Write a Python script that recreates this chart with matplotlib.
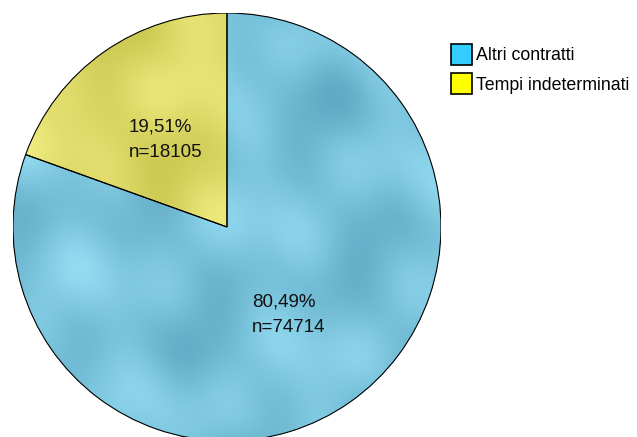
#!/usr/bin/env python3
"""Pie chart: Tempi indeterminati vs Altri contratti."""
import numpy as np
import matplotlib

matplotlib.use("Agg")
import matplotlib.pyplot as plt
from matplotlib.colors import LinearSegmentedColormap
from matplotlib.patches import Wedge

# data, in drawing order (counter-clockwise from 12 o'clock)
categories = ["Tempi indeterminati", "Altri contratti"]
counts = [18105, 74714]
pct_labels = ["19,51%", "80,49%"]

# colours: textured fill (dark, light) per slice, and the bright legend swatches
fill_colors = ["#dcd868", "#7ac4dc"]
texture_ranges = [("#c9c64e", "#f0ec80"), ("#5fa9c4", "#93dcf2")]
legend_colors = ["#ffff00", "#33ccff"]

W, H, DPI = 637, 437, 100
fig = plt.figure(figsize=(W / DPI, H / DPI), dpi=DPI)
fig.patch.set_facecolor("white")

# pie centre at pixel (227, 227 from top), radius ~214 px
cx, cy, r = 227, 227, 214
ax = fig.add_axes([(cx - r) / W, (H - cy - r) / H, 2 * r / W, 2 * r / H])

wedges, _ = ax.pie(
    counts,
    colors=fill_colors,
    startangle=90,
    counterclock=True,
    radius=1,
    wedgeprops=dict(edgecolor="none"),
)
ax.set_xlim(-1, 1)
ax.set_ylim(-1, 1)
ax.set_aspect("equal")
ax.axis("off")

# soft cloudy texture (fixed sine mix, just decoration)
gx, gy = np.meshgrid(np.linspace(-1, 1, 300), np.linspace(-1, 1, 300))
field = (np.sin(7.1 * gx + 2.3 * gy + 0.4) + np.sin(-3.2 * gx + 8.3 * gy + 1.7)
         + 0.7 * np.sin(11.5 * gx - 6.1 * gy + 2.9) + 0.6 * np.sin(4.4 * gx + 13.2 * gy + 0.8)
         + 0.4 * np.sin(17.0 * gx + 9.0 * gy + 2.2))
field = (field - field.min()) / (field.max() - field.min())

for w, (dark, light) in zip(wedges, texture_ranges):
    cmap = LinearSegmentedColormap.from_list("tex", [dark, light])
    im = ax.imshow(field, cmap=cmap, extent=(-1, 1, -1, 1), origin="lower",
                   interpolation="bilinear", zorder=2)
    im.set_clip_path(w)
    outline = Wedge(w.center, w.r, w.theta1, w.theta2, facecolor="none",
                    edgecolor="black", linewidth=0.8, zorder=3)
    ax.add_patch(outline)

for w, pct, n in zip(wedges, pct_labels, counts):
    mid = np.deg2rad((w.theta1 + w.theta2) / 2)
    x, y = 0.5 * np.cos(mid), 0.5 * np.sin(mid)
    ax.text(x, y, f"{pct}\nn={n}", ha="center", va="center",
            multialignment="left", fontsize=13.5, linespacing=1.65,
            family="Liberation Sans", color="#111111", zorder=4)

# legend: "Altri contratti" first
handles = [
    plt.Rectangle((0, 0), 1, 1, facecolor=legend_colors[1], edgecolor="black", linewidth=1.2),
    plt.Rectangle((0, 0), 1, 1, facecolor=legend_colors[0], edgecolor="black", linewidth=1.2),
]
fig.legend(
    handles,
    [categories[1], categories[0]],
    loc="upper left",
    bbox_to_anchor=(451 / W, (H - 44) / H),
    frameon=False,
    borderpad=0,
    borderaxespad=0,
    handlelength=1.16,
    handleheight=1.4,
    handletextpad=0.25,
    labelspacing=0.5,
    prop={"family": "Liberation Sans", "size": 12.8},
)

fig.savefig("out.png", dpi=DPI, facecolor="white")
